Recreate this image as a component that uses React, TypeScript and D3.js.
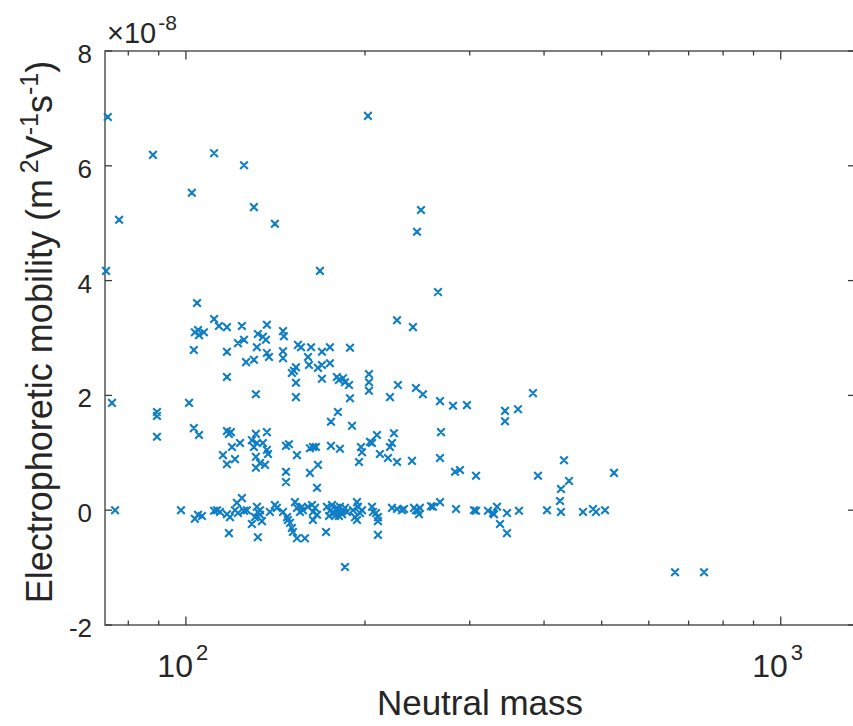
import React from 'react';
import * as d3 from 'd3';

// neutral mass (Da) and electrophoretic mobility (x 1e-8 m^2 V^-1 s^-1)
const upperMass = [73.9, 73.4, 77.2, 88.0, 102.3, 111.5, 125.2, 130.1, 141.1, 202.3, 248.4, 244.6, 168.0, 265.3, 226.4, 240.8, 104.4];
const upperMobility = [6.85, 4.17, 5.06, 6.19, 5.53, 6.22, 6.01, 5.28, 4.99, 6.87, 5.23, 4.85, 4.17, 3.80, 3.31, 3.19, 3.61];

const bandMass = [
    111.5, 113.6, 117.2, 124.2, 136.8, 103.5, 104.8, 105.2, 107.2, 103.1, 117.2, 122.3, 125.2, 131.6, 132.1, 134.7,
    136.3, 136.8, 137.9, 126.2, 130.1, 145.6, 146.1, 145.6, 145.6, 154.3, 156.1, 162.3, 169.3, 174.6, 188.7, 160.4,
    161.0, 166.7, 169.3, 174.6, 153.1, 151.9, 150.7, 153.1, 153.1, 169.3, 179.4, 180.8, 183.7, 185.1, 188.0, 203.1,
    203.1, 203.1, 188.7, 117.2, 131.1, 227.2, 220.3, 243.6, 250.3, 267.4, 281.2, 296.8, 343.9, 343.9, 361.6, 383.2
];
const bandMobility = [
    3.33, 3.21, 3.19, 3.21, 3.23, 3.10, 3.14, 3.05, 3.10, 2.79, 2.76, 2.91, 2.97, 2.84, 3.07, 3.02,
    2.97, 2.74, 2.67, 2.58, 2.62, 3.12, 3.03, 2.77, 2.65, 2.88, 2.84, 2.84, 2.76, 2.84, 2.83, 2.67,
    2.53, 2.48, 2.53, 2.56, 2.49, 2.43, 2.39, 2.22, 1.97, 2.29, 2.32, 2.27, 2.30, 2.23, 2.18, 2.37,
    2.23, 2.08, 1.95, 2.32, 2.02, 2.18, 1.97, 2.13, 2.02, 1.90, 1.82, 1.83, 1.73, 1.55, 1.76, 2.04
];

const midMass = [
    75.1, 89.4, 89.4, 101.2, 89.4, 103.1, 105.2,
    117.2, 118.1, 119.0, 119.5, 123.3, 115.4, 120.9, 117.2,
    131.1, 129.1, 131.6, 130.1, 136.8, 134.7, 136.8, 137.4, 131.1, 133.2, 135.8, 131.1,
    147.3, 149.0, 153.7, 147.3, 147.3, 180.1, 175.3, 190.2,
    161.6, 163.5, 165.4, 161.6, 166.7, 175.3, 181.5, 196.9, 197.7, 195.4, 203.9, 205.5, 209.5,
    223.7, 222.0, 220.3, 211.9, 218.6, 226.4, 239.9,
    268.4, 267.4, 283.4, 288.9, 307.4, 390.7, 432.1, 440.6, 427.1, 425.5, 524.4, 166.1
];
const midMobility = [
    1.87, 1.71, 1.64, 1.87, 1.28, 1.43, 1.31,
    1.38, 1.33, 1.36, 1.10, 1.17, 0.96, 0.89, 0.80,
    1.33, 1.22, 1.17, 1.10, 1.36, 1.17, 1.05, 0.98, 0.93, 0.82, 0.79, 0.74,
    1.12, 1.15, 0.96, 0.67, 0.49, 1.71, 1.54, 1.47,
    1.08, 1.10, 1.10, 0.65, 0.79, 1.12, 1.07, 1.10, 1.01, 0.84, 1.19, 1.17, 1.31,
    1.34, 1.17, 1.10, 0.98, 0.91, 0.84, 0.86,
    1.36, 0.91, 0.67, 0.70, 0.60, 0.60, 0.87, 0.51, 0.37, 0.16, 0.65, 0.39
];

const zeroMass = [
    76.0, 98.1, 103.5, 104.8, 106.4, 111.5, 112.8, 114.1, 117.2, 118.6, 120.9, 122.3,
    121.8, 124.2, 125.2, 126.6, 131.6, 132.1, 133.2, 133.2, 130.6, 129.1, 134.2, 118.1, 132.1,
    138.4, 141.1, 142.2, 145.6, 147.9, 148.4, 149.6, 150.7, 151.3, 152.5, 153.7, 155.5, 156.7, 157.3,
    153.7, 158.5, 160.4, 162.9, 163.5, 164.8, 166.1, 163.5, 172.0,
    172.6, 174.6, 176.0, 177.4, 178.1, 179.4, 180.1, 181.5, 183.0, 183.7, 185.1, 186.5, 174.0, 180.8,
    193.9, 194.6, 190.9, 192.4, 193.9, 196.2, 197.7, 205.5, 206.3, 210.3, 210.3, 185.1, 208.7, 210.3,
    222.0, 226.4, 230.8, 232.6, 241.8, 243.6, 245.5, 247.4, 246.5, 258.2, 260.2, 267.4,
    284.5, 305.0, 307.4, 322.0, 328.3, 333.4, 329.5, 337.3, 346.5, 346.5, 363.0,
    404.6, 427.1, 465.1, 483.5, 489.1, 506.5, 664.1, 743.1
];
const zeroMobility = [
    0.00, 0.00, -0.15, -0.08, -0.10, -0.01, 0.00, -0.03, -0.07, -0.12, 0.00, -0.05,
    0.13, 0.21, -0.01, 0.00, 0.06, -0.03, 0.00, -0.08, -0.12, -0.24, -0.19, -0.40, -0.47,
    -0.03, 0.09, 0.04, -0.03, -0.12, -0.17, -0.22, -0.31, -0.38, 0.14, 0.04, -0.03, 0.06, 0.00,
    -0.49, -0.49, 0.06, 0.09, -0.03, 0.04, -0.08, -0.17, -0.38,
    0.06, -0.01, 0.09, -0.05, -0.10, 0.04, -0.03, 0.06, -0.07, 0.00, 0.04, -0.03, -0.10, -0.10,
    0.14, 0.06, 0.00, -0.12, -0.17, -0.05, 0.00, 0.06, -0.03, -0.12, -0.43, -0.99, -0.05, -0.19,
    0.04, 0.02, 0.00, 0.02, 0.04, 0.00, -0.01, 0.04, -0.07, 0.07, 0.06, 0.14,
    0.02, 0.00, -0.01, -0.01, -0.05, 0.06, -0.07, -0.24, -0.40, -0.05, -0.01,
    0.00, -0.03, -0.03, 0.02, -0.03, 0.00, -1.08, -1.08
];

const yTicks = [-2, 0, 2, 4, 6, 8];
const xMajorTicks = [100, 1000];
const xMajorExponents = ['2', '3'];
const xMinorTicks = [80, 90, 200, 300, 400, 500, 600, 700, 800, 900];

const WIDTH = 853;
const HEIGHT = 726;
const LEFT = 105;
const RIGHT = 855;
const TOP = 51;
const BOTTOM = 625;

const FONT = '"Liberation Sans", Arial, Helvetica, sans-serif';
const INK = '#262626';
const AXIS = '#3a3a3a';
const MARKER = '#0f7ec6';

const x = d3.scaleLog().domain([73.1, 1333]).range([LEFT, RIGHT]);
const y = d3.scaleLinear().domain([-2, 8]).range([BOTTOM, TOP]);

function crossPath(cx, cy) {
    const s = 3.8;
    return `M${cx - s},${cy - s}L${cx + s},${cy + s}M${cx - s},${cy + s}L${cx + s},${cy - s}`;
}

export default function App() {
    const points = [];
    [[upperMass, upperMobility], [bandMass, bandMobility], [midMass, midMobility], [zeroMass, zeroMobility]]
        .forEach(([ms, mob]) => ms.forEach((m, i) => points.push([m, mob[i]])));

    const markers = points.map(([m, v]) => crossPath(x(m), y(v))).join('');

    return (
        <svg width={WIDTH} height={HEIGHT} style={{ position: 'absolute', left: 0, top: 0, background: '#fff' }}
             fontFamily={FONT}>
            <rect x={0} y={0} width={WIDTH} height={HEIGHT} fill='#fff' />

            {/* axes box and ticks */}
            <g stroke={AXIS} strokeWidth={1.3} fill='none'>
                <rect x={LEFT} y={TOP} width={RIGHT - LEFT} height={BOTTOM - TOP} />
                {yTicks.map(t => (
                    <g key={'y' + t}>
                        <line x1={LEFT} x2={LEFT + 7} y1={y(t)} y2={y(t)} />
                        <line x1={RIGHT} x2={RIGHT - 7} y1={y(t)} y2={y(t)} />
                    </g>
                ))}
                {xMajorTicks.map(t => (
                    <g key={'xM' + t}>
                        <line x1={x(t)} x2={x(t)} y1={BOTTOM} y2={BOTTOM - 8.5} />
                        <line x1={x(t)} x2={x(t)} y1={TOP} y2={TOP + 8.5} />
                    </g>
                ))}
                {xMinorTicks.map(t => (
                    <g key={'xm' + t}>
                        <line x1={x(t)} x2={x(t)} y1={BOTTOM} y2={BOTTOM - 4.5} />
                        <line x1={x(t)} x2={x(t)} y1={TOP} y2={TOP + 4.5} />
                    </g>
                ))}
            </g>

            {/* data */}
            <path d={markers} stroke={MARKER} strokeWidth={2.1} fill='none' />

            {/* tick labels */}
            <g fill={INK} fontSize={26}>
                {yTicks.map(t => (
                    <text key={'yl' + t} x={LEFT - 13} y={y(t) + 12} textAnchor='end'>{t}</text>
                ))}
            </g>
            <g fill={INK}>
                {xMajorTicks.map((t, i) => (
                    <g key={'xl' + t}>
                        <text x={x(t) + 7} y={677} fontSize={32} textAnchor='end'>10</text>
                        <text x={x(t) + 10} y={660} fontSize={22}>{xMajorExponents[i]}</text>
                    </g>
                ))}
            </g>

            {/* exponent multiplier */}
            <text x={107} y={43} fill={INK} fontSize={29}>
                {'\u00d710'}
                <tspan dx={2} dy={-13} fontSize={21}>-8</tspan>
            </text>

            {/* axis labels */}
            <text x={(LEFT + RIGHT) / 2} y={715} fill={INK} fontSize={35} textAnchor='middle'>Neutral mass</text>
            <text transform={`translate(52, 332) rotate(-90)`} fill={INK} fontSize={36} textAnchor='middle'>
                Electrophoretic mobility (m
                <tspan dx={6} dy={-14} fontSize={25}>2</tspan>
                <tspan dy={14}>V</tspan>
                <tspan dy={-14} fontSize={25}>-1</tspan>
                <tspan dy={14}>s</tspan>
                <tspan dy={-14} fontSize={25}>-1</tspan>
                <tspan dy={14}>)</tspan>
            </text>
        </svg>
    );
}
